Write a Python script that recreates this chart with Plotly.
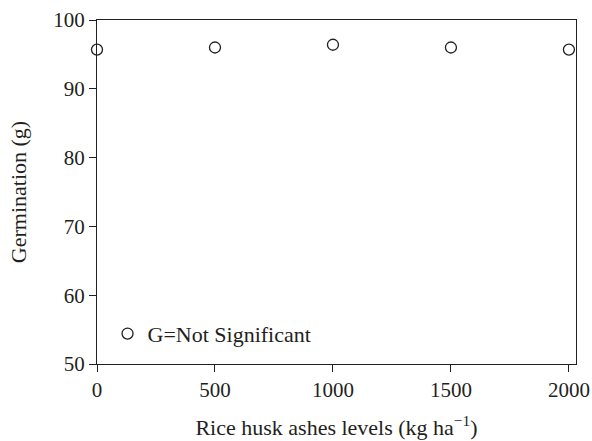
import plotly.graph_objects as go

levels = [0, 500, 1000, 1500, 2000]
germination = [95.7, 96.0, 96.4, 96.0, 95.7]
x_ticks = [0, 500, 1000, 1500, 2000]
y_ticks = [50, 60, 70, 80, 90, 100]

FONT = "Liberation Serif"
INK = "#231f20"

fig = go.Figure()
fig.add_trace(go.Scatter(
    x=levels, y=germination, mode="markers", name="G=Not Significant",
    marker=dict(symbol="circle-open", size=11, color=INK, line=dict(width=1.3, color=INK)),
    cliponaxis=False,
))

fig.update_layout(
    width=592, height=441,
    margin=dict(l=97, r=16, t=20, b=77, autoexpand=False),
    paper_bgcolor="white", plot_bgcolor="white",
    font=dict(family=FONT, size=21, color=INK),
    showlegend=True,
    legend=dict(x=0.022, y=0.088, xanchor="left", yanchor="middle",
                bgcolor="rgba(0,0,0,0)", font=dict(size=22, family=FONT, color=INK),
                itemwidth=30, tracegroupgap=0),
    xaxis=dict(range=[0, 2030], tickvals=x_ticks, ticks="outside", ticklen=7,
               tickcolor=INK, showline=True, linecolor=INK, linewidth=1.2,
               mirror=True, showgrid=False, zeroline=False, automargin=False,
               tickfont=dict(size=21, family=FONT, color=INK),
               title=dict(text="Rice husk ashes levels (kg ha<sup>−1</sup>)", standoff=18,
                          font=dict(size=22, family=FONT, color=INK))),
    yaxis=dict(range=[50, 100], tickvals=y_ticks, ticks="outside", ticklen=7,
               tickcolor=INK, showline=True, linecolor=INK, linewidth=1.2,
               mirror=True, showgrid=False, zeroline=False, automargin=False,
               tickfont=dict(size=21, family=FONT, color=INK),
               title=dict(text="Germination (g)", standoff=20,
                          font=dict(size=22, family=FONT, color=INK))),
)

fig.write_html("out.html")
